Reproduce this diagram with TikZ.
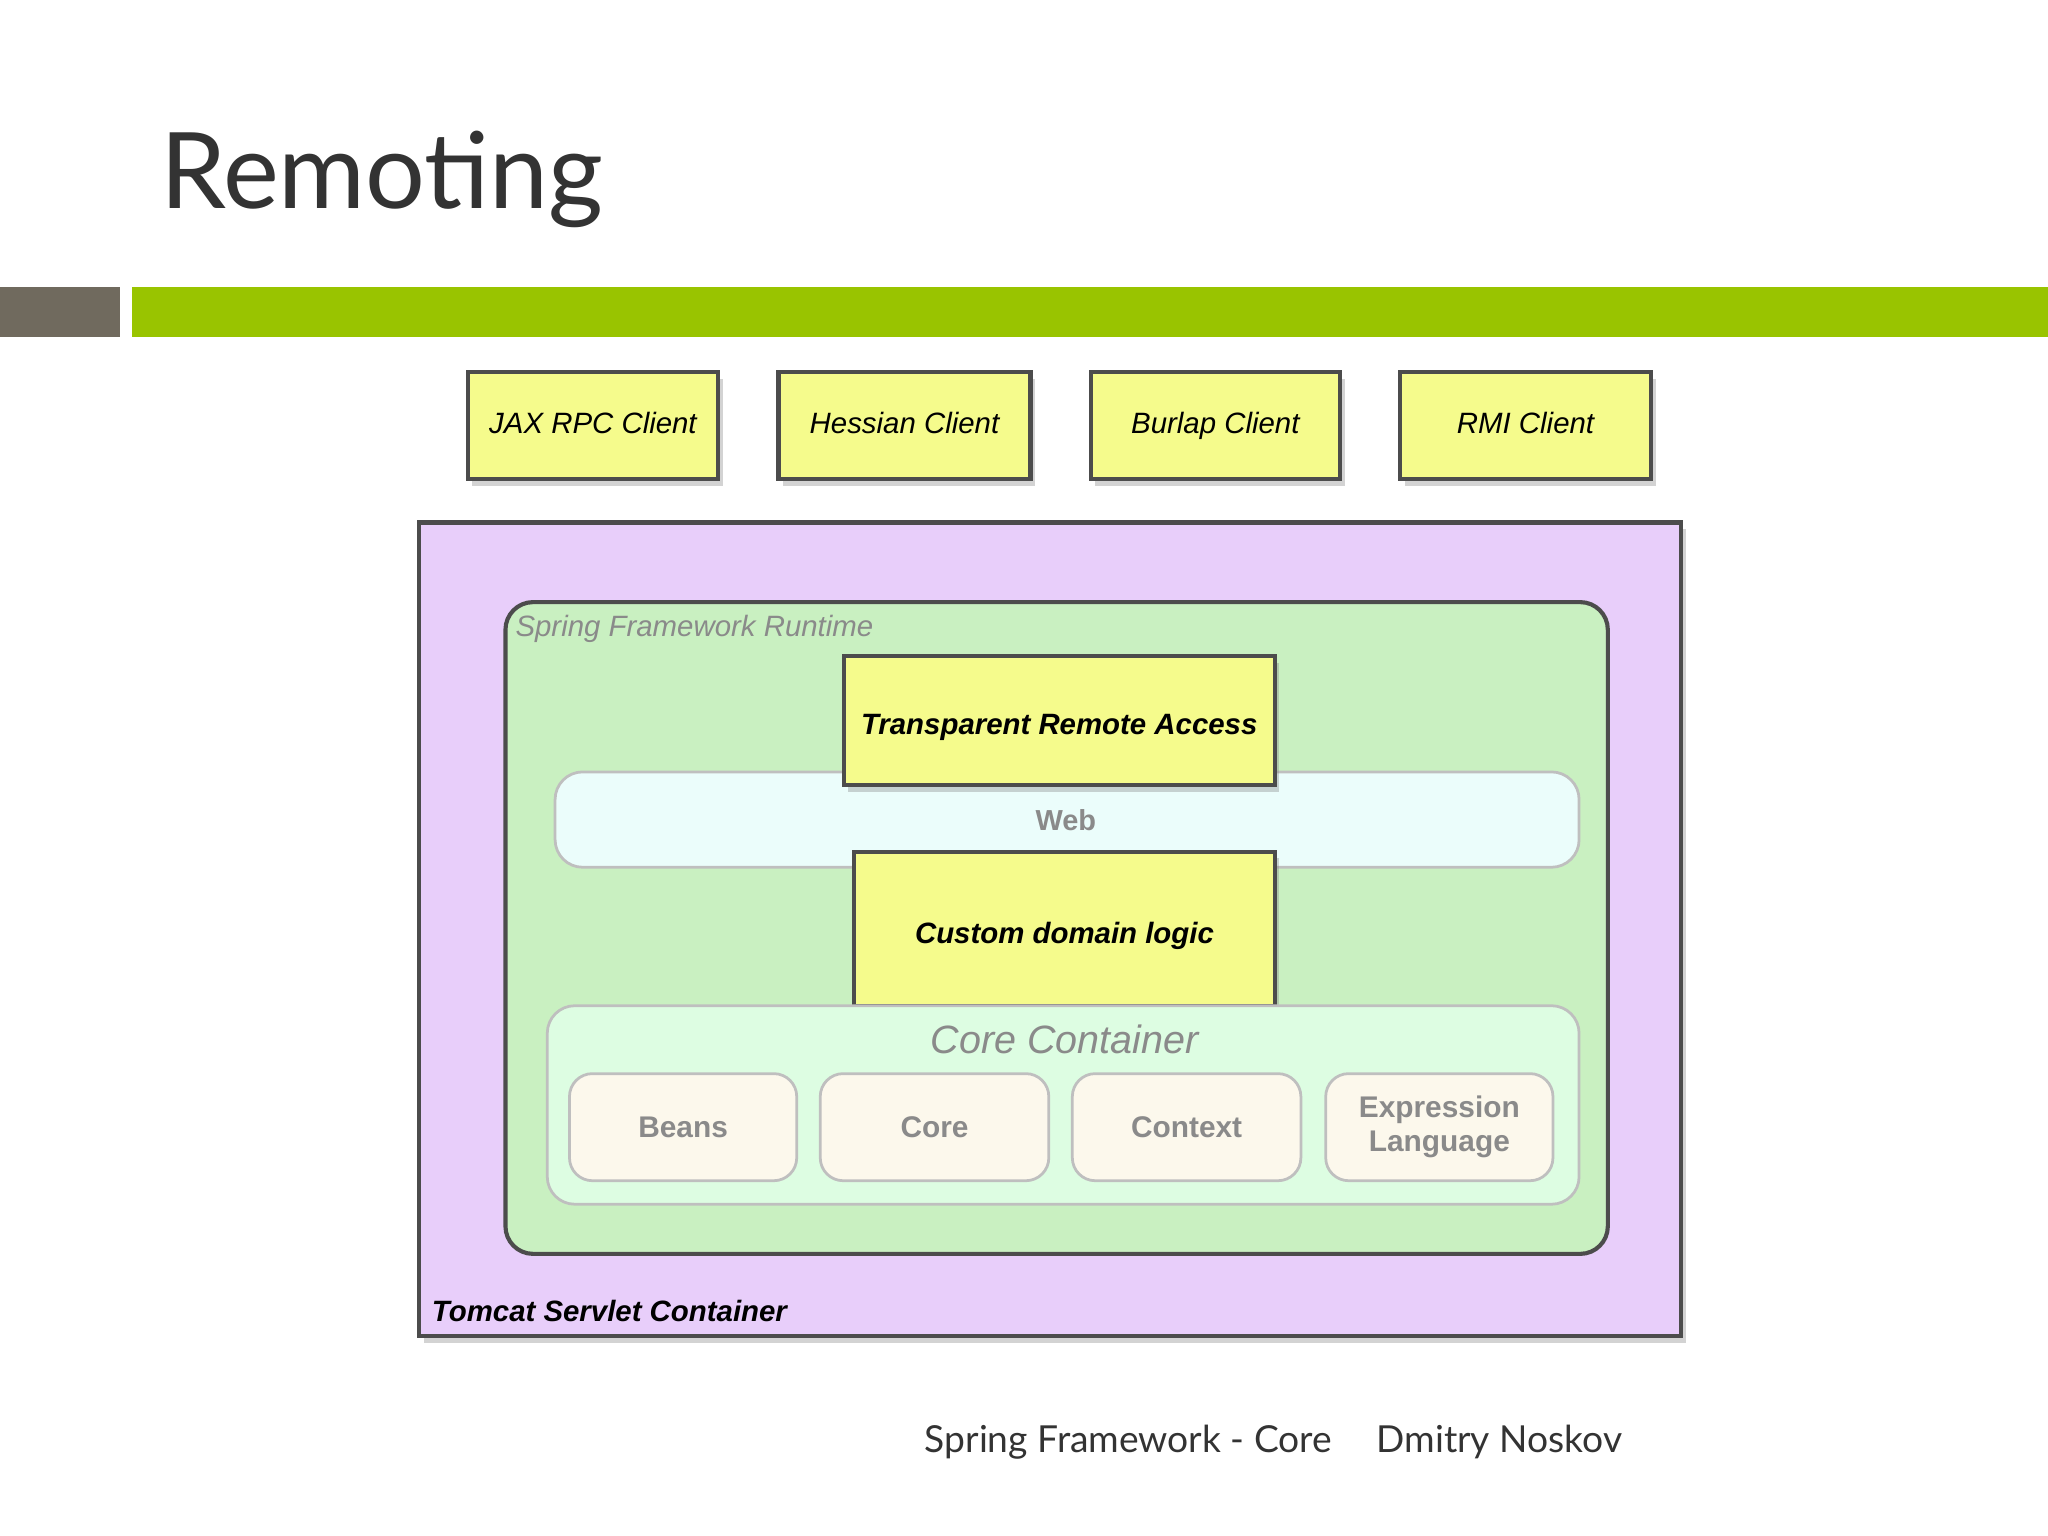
\documentclass[tikz,border=0pt]{standalone}
\usepackage{fontspec}
\setmainfont{Liberation Sans}
\newfontfamily\titlefont{Lato}
\usetikzlibrary{positioning,shadows}
\definecolor{clientyellow}{HTML}{F5FB8C}
\definecolor{tomcatviolet}{HTML}{E8CEFA}
\definecolor{runtimegreen}{HTML}{C9F0C1}
\definecolor{webblue}{HTML}{EBFDFB}
\definecolor{coregreen}{HTML}{DDFDE2}
\definecolor{modcream}{HTML}{FCF8EC}
\definecolor{bargreen}{HTML}{99C400}
\definecolor{bargray}{HTML}{706A5E}
\definecolor{labelgray}{HTML}{8A8A8A}
\tikzset{
  box/.style={draw=black!70, line width=0.9pt, inner sep=0pt},
  yellowbox/.style={box, fill=clientyellow, drop shadow={shadow xshift=1pt, shadow yshift=-1.5pt, opacity=0.35}},
  boxtext/.style={font=\fontsize{6.4}{8}\selectfont\itshape, text height=1.6ex, text depth=0.4ex},
  module/.style={draw=black!25, line width=0.6pt, rounded corners=5pt, fill=modcream,
                 font=\fontsize{6.5}{7.4}\selectfont\bfseries, text=labelgray, align=center}
}
\begin{document}
\begin{tikzpicture}[x=0.01cm, y=-0.01cm]
  \useasboundingbox (0,0) rectangle (1568,1176);
  % title and bars
  \node[anchor=base west, inner sep=0pt, font=\titlefont\fontsize{23}{25}\selectfont, text=black!80] (title) at (122,160) {Remoting};
  \fill[bargray] (0,220) rectangle (92,258);
  \fill[bargreen] (101,220) rectangle (1568,258);

  % clients
  \foreach \name/\xa/\xb/\txt in {jax/358/550/JAX RPC Client, hessian/596/789/Hessian Client,
                                  burlap/835/1026/Burlap Client, rmi/1072/1264/RMI Client}
    \draw[yellowbox] (\xa,285) rectangle (\xb,367)
      node[midway, yshift=1.5pt, boxtext] (\name) {\txt};

  % containers
  \draw[box, fill=tomcatviolet, drop shadow={shadow xshift=1pt, shadow yshift=-1.5pt, opacity=0.35}] (321,400) rectangle (1287,1023);
  \node[anchor=base west, inner sep=0pt, font=\fontsize{6.4}{8}\selectfont\bfseries\itshape] (tomcat) at (330,1012) {Tomcat Servlet Container};
  \draw[box, rounded corners=6pt, fill=runtimegreen] (387,461) rectangle (1231,960);
  \node[anchor=base west, inner sep=0pt, font=\fontsize{6.4}{8}\selectfont\itshape, text=labelgray] (runtime) at (394,487) {Spring Framework Runtime};
  \draw[draw=black!25, line width=0.6pt, rounded corners=6pt, fill=webblue] (425,591) rectangle (1209,664);
  \node[font=\fontsize{6.3}{8}\selectfont\bfseries, text=labelgray] (web) at (816,628) {Web};
  \draw[yellowbox] (646,502) rectangle (976,601)
    node[midway, boxtext, font=\fontsize{6.4}{8}\selectfont\bfseries\itshape] (remote) {Transparent Remote Access};
  \draw[yellowbox] (654,652) rectangle (976,770)
    node[midway, boxtext, font=\fontsize{6.4}{8}\selectfont\bfseries\itshape] (domain) {Custom domain logic};
  \draw[draw=black!25, line width=0.6pt, rounded corners=6pt, fill=coregreen] (419,770) rectangle (1209,922);
  \node[font=\fontsize{8.6}{10}\selectfont\itshape, text=labelgray] (corecont) at (815,796) {Core Container};

  % modules
  \foreach \name/\xa/\xb/\txt in {beans/436/610/Beans, core/628/803/Core,
                                  context/821/996/Context, el/1015/1189/{Expression\\Language}}
    \draw[module] (\xa,822) rectangle (\xb,904) node[midway] (\name) {\txt};

  % footer
  \node[font=\titlefont\fontsize{8.1}{10}\selectfont, text=black!80] (footer) at (864,1104) {Spring Framework - Core};
  \node[font=\titlefont\fontsize{8.1}{10}\selectfont, text=black!80] (author) at (1148,1104) {Dmitry Noskov};
\end{tikzpicture}
\end{document}
